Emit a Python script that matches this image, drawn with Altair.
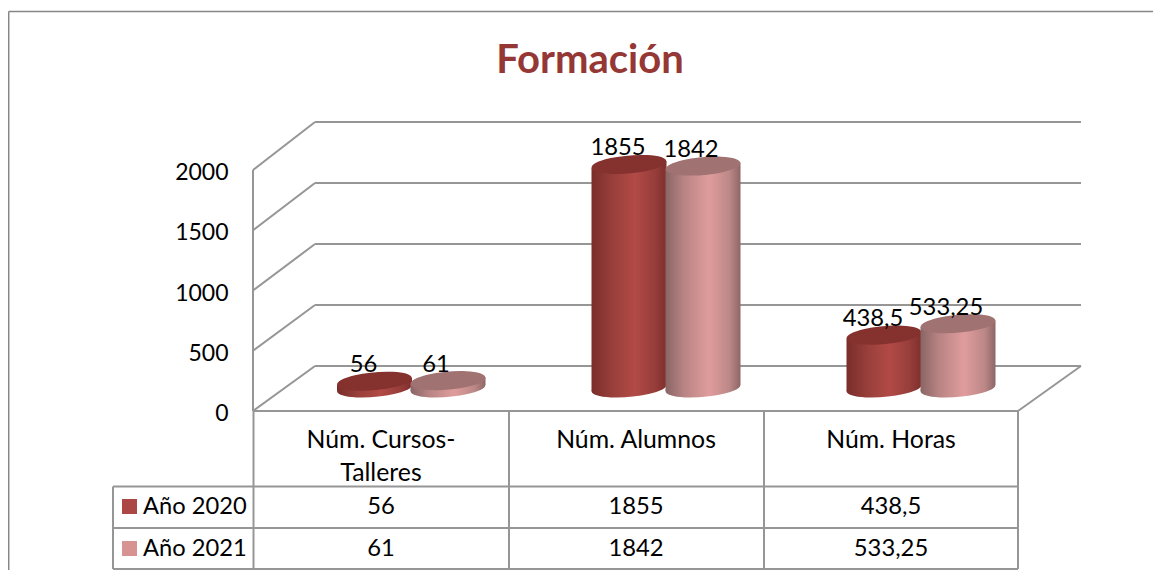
import altair as alt
import pandas as pd

categories = ["Núm. Cursos-Talleres", "Núm. Alumnos", "Núm. Horas"]
series_names = ["Año 2020", "Año 2021"]
values_2020 = [56, 1855, 438.5]
values_2021 = [61, 1842, 533.25]
labels_2020 = ["56", "1855", "438,5"]
labels_2021 = ["61", "1842", "533,25"]
ticks = [0, 500, 1000, 1500, 2000]
centers_2020 = [374.5, 629, 884]
centers_2021 = [448, 703, 958]

FONT = "Lato"
FS = 23
UNITS_PER_PX = 2000 / 241
Y0 = 411


def v(py):
    return (Y0 - py) * UNITS_PER_PX


BASE = v(388)
TILT = 3.3 * UNITS_PER_PX
HALF = 37.5
XS = alt.Scale(domain=[8, 1153], range=[0, 1145])
YS = alt.Scale(domain=[v(8), v(570)], range=[0, 562])


def back(t):
    return v(366 - t * 244 / 2000)


def stops(cols):
    return alt.Gradient(
        gradient="linear", x1=0, x2=1, y1=0, y2=0,
        stops=[alt.GradientStop(color=c, offset=o) for o, c in cols],
    )


RED = stops([(0, "#7a2d2a"), (0.3, "#9a403c"), (0.58, "#b24a46"), (0.85, "#963d3a"), (1, "#7e2f2c")])
PINK = stops([(0, "#8a6565"), (0.25, "#b98484"), (0.58, "#e09c9c"), (0.85, "#bd8888"), (1, "#8e6666")])
ELLIPSE = "M-0.996,0.087A1,0.235,-5,1,1,0.996,-0.087A1,0.235,-5,1,1,-0.996,0.087Z"
ELL_SIZE = (2 * HALF) ** 2
X = alt.X("x:Q", scale=XS, axis=None)
Y = alt.Y("y:Q", scale=YS, axis=None)


def segs(rows, color="#969696", w=2):
    df = pd.DataFrame(rows, columns=["x", "y", "x2", "y2"])
    return alt.Chart(df).mark_rule(color=color, strokeWidth=w).encode(
        x=X, y=Y, x2="x2:Q", y2="y2:Q"
    )


def texts(rows, size=FS, color="#000000", weight="normal", align="center"):
    df = pd.DataFrame(rows, columns=["x", "y", "t"])
    return alt.Chart(df).mark_text(
        font=FONT, fontSize=size, color=color, fontWeight=weight,
        align=align, baseline="alphabetic",
    ).encode(x=X, y=Y, text="t:N")


def cylinder(cx, val, grad, top):
    body = pd.DataFrame({
        "x": [cx - HALF, cx + HALF],
        "y": [BASE + val - TILT, BASE + val + TILT],
        "y2": [BASE - TILT, BASE + TILT],
    })
    pt = pd.DataFrame({"x": [cx], "y": [BASE]})
    tp = pd.DataFrame({"x": [cx], "y": [BASE + val]})
    return [
        alt.Chart(pt).mark_point(shape=ELLIPSE, size=ELL_SIZE, filled=True, opacity=1, fill=grad, strokeWidth=0).encode(x=X, y=Y),
        alt.Chart(body).mark_area(fill=grad, opacity=1).encode(x=X, y=Y, y2="y2:Q"),
        alt.Chart(tp).mark_point(shape=ELLIPSE, size=ELL_SIZE, filled=True, opacity=1, fill=top, strokeWidth=0).encode(x=X, y=Y),
    ]


layers = []
# outer frame
layers.append(segs([[8.7, v(11.5), 1153, v(11.5)], [8.7, v(11.5), 8.7, v(570)]], "#868686", 1.5))
# walls and floor
grid = []
for t in ticks:
    grid.append([315, back(t), 1081, back(t)])
    grid.append([253, t, 315, back(t)])
grid += [[253, 0, 253, 2000], [253, 0, 1018, 0], [1018, 0, 1081, back(0)]]
layers.append(segs(grid))
# table
tab = [[x, 0, x, v(569)] for x in [253.5, 509, 764, 1018]]
tab += [[113, v(y), 1018, v(y)] for y in [486.5, 528, 569]]
tab += [[113, v(486.5), 113, v(569)]]
layers.append(segs(tab))
# cylinders
for i in range(3):
    layers += cylinder(centers_2020[i], values_2020[i], RED, "#85322f")
    layers += cylinder(centers_2021[i], values_2021[i], PINK, "#a07272")
# tick labels
layers.append(texts([[228.5, t - 10 * UNITS_PER_PX, str(t)] for t in ticks], align="right"))
# value labels
lab = []
for i in range(3):
    lab.append([centers_2020[i] - 11, BASE + values_2020[i] + 9 * UNITS_PER_PX, labels_2020[i]])
    lab.append([centers_2021[i] - 12, BASE + values_2021[i] + 9 * UNITS_PER_PX, labels_2021[i]])
layers.append(texts(lab, size=23.8))
# table text
col_x = [381, 636, 891]
head = [[col_x[0], v(448), "Núm. Cursos-"], [col_x[0], v(481), "Talleres"],
        [col_x[1], v(448), categories[1]], [col_x[2], v(448), categories[2]]]
rows = []
for i in range(3):
    rows.append([col_x[i], v(514), labels_2020[i]])
    rows.append([col_x[i], v(556), labels_2021[i]])
layers.append(texts(head, size=24.8))
layers.append(texts(rows, size=23.8))
layers.append(texts([[143, v(514), series_names[0]], [143, v(556), series_names[1]]], size=23.7, align="left"))
# legend swatches
sw = pd.DataFrame({"x": [129.5, 129.5], "y": [v(506.5), v(548.5)], "s": series_names})
layers.append(alt.Chart(sw).mark_square(size=225, opacity=1).encode(
    x=X, y=Y,
    color=alt.Color("s:N", scale=alt.Scale(domain=series_names, range=["#ab4744", "#d69392"]), legend=None),
))
# title
layers.append(texts([[590, v(73), "Formación"]], size=40, color="#953735", weight="bold"))

chart = alt.layer(*layers).properties(
    width=1145, height=562, padding=0,
    autosize=alt.AutoSizeParams(type="none"),
).configure_view(stroke=None)

chart.save("out.html", embed_options={"renderer": "svg", "actions": False})
